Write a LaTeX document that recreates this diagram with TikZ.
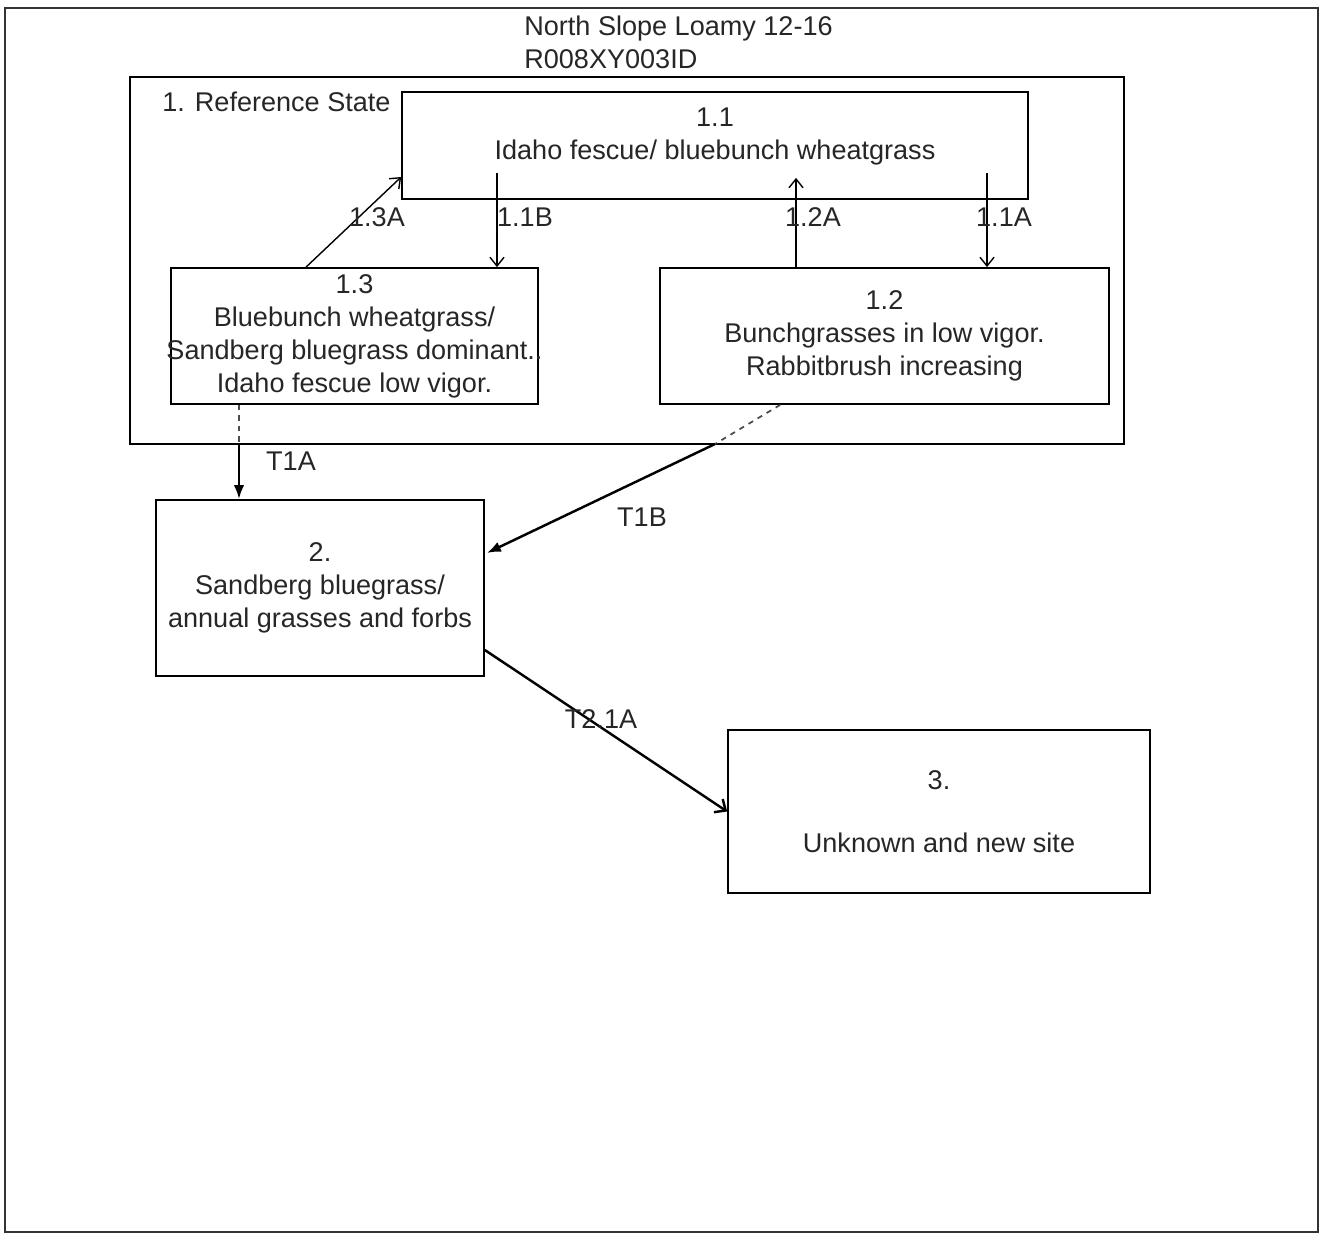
\documentclass[tikz,border=0pt]{standalone}
\usepackage{fontspec}
\setmainfont{Liberation Sans}
\usetikzlibrary{calc,arrows.meta}
\tikzset{>={Straight Barb[length=5pt,width=8pt]}}
\tikzset{
  stbox/.style={draw, line width=1pt, align=center, inner sep=0pt, font=\fontsize{15.4}{18.8}\selectfont, text=black!85},
  lbl/.style={inner sep=0pt, font=\fontsize{15.4}{18.8}\selectfont, text=black!85},
  inarrow/.style={->, line width=0.8pt},
  trarrow/.style={line width=1.4pt}
}

\begin{document}
\begin{tikzpicture}[x=0.02cm, y=-0.02cm]
      \useasboundingbox (0,0) rectangle (1321,1234);
      \draw[line width=1.2pt, black!80] (5,8) rectangle (1318,1232);
      \node[lbl, align=left, anchor=north west] (title) at (524,16) {North Slope Loamy 12-16\\R008XY003ID};
      \node[draw, line width=1.2pt, minimum width=19.88cm, minimum height=7.34cm] (ref) at (627,260.5) {};
      \node[lbl, anchor=base west] (reflbl) at (162,111) {1. Reference State};
      \node[stbox, minimum width=12.52cm, minimum height=2.14cm] (n11) at (715,145.5) {1.1\\Idaho fescue/ bluebunch wheatgrass\\[-5pt]\mbox{}};
      \node[stbox, minimum width=7.34cm, minimum height=2.72cm] (n13) at (354.5,336) {1.3\\Bluebunch wheatgrass/\\\makebox[0pt]{Sandberg bluegrass dominant..}\\Idaho fescue low vigor.};
      \node[stbox, minimum width=8.98cm, minimum height=2.72cm] (n12) at (884.5,336) {1.2\\Bunchgrasses in low vigor.\\Rabbitbrush increasing};
      \node[stbox, minimum width=6.56cm, minimum height=3.52cm] (n2) at (320,588) {2.\\Sandberg bluegrass/\\annual grasses and forbs};
      \node[stbox, minimum width=8.44cm, minimum height=3.26cm] (n3) at (939,811.5) {3.\\[17pt]Unknown and new site};
      % pathways inside the reference state
      \coordinate (p11b) at ($(n13.north)+(142.5,0)$);
      \coordinate (p12a) at ($(n12.north)+(-88.5,0)$);
      \coordinate (p11a) at ($(n12.north)+(102.5,0)$);
      \draw[inarrow] ($(n13.north)+(-48.5,0)$) to ($(n11.west)+(0,31.5)$);
      \draw[inarrow] ($(n11.south -| p11b)+(0,-27)$) to (p11b);
      \draw[inarrow] (p12a) to ($(n11.south -| p12a)+(0,-22)$);
      \draw[inarrow] ($(n11.south -| p11a)+(0,-27)$) to (p11a);
      \node[lbl, anchor=base] (l13a) at (377,226) {1.3A};
      \node[lbl, anchor=base] (l11b) at (525,226) {1.1B};
      \node[lbl, anchor=base] (l12a) at (813,226) {1.2A};
      \node[lbl, anchor=base] (l11a) at (1004,226) {1.1A};
      % transitions
      \coordinate (t1a) at (239,444);
      \coordinate (t1b) at (715,444);
      \draw[trarrow, dashed, line width=1pt, black!70] (n13.south -| t1a) -- (t1a);
      \draw[trarrow, -{Latex[length=8pt,width=6pt]}] (t1a) -- (n2.north -| t1a);
      \draw[trarrow, dashed, line width=1pt, black!70] ($(n12.south west)+(121,0)$) -- (t1b);
      \draw[trarrow, -{Latex[length=8pt,width=6pt]}] (t1b) -- ($(n2.east)+(2,-35)$);
      \draw[trarrow, -{Straight Barb[length=5pt,width=9pt]}] ($(n2.east)+(0,62)$) -- (n3.west);
      \node[lbl, anchor=base] (lt1a) at (291,470) {T1A};
      \node[lbl, anchor=base] (lt1b) at (642,526) {T1B};
      \node[lbl, anchor=base] (lt21a) at (601,728) {T2.1A};
\end{tikzpicture}
\end{document}
